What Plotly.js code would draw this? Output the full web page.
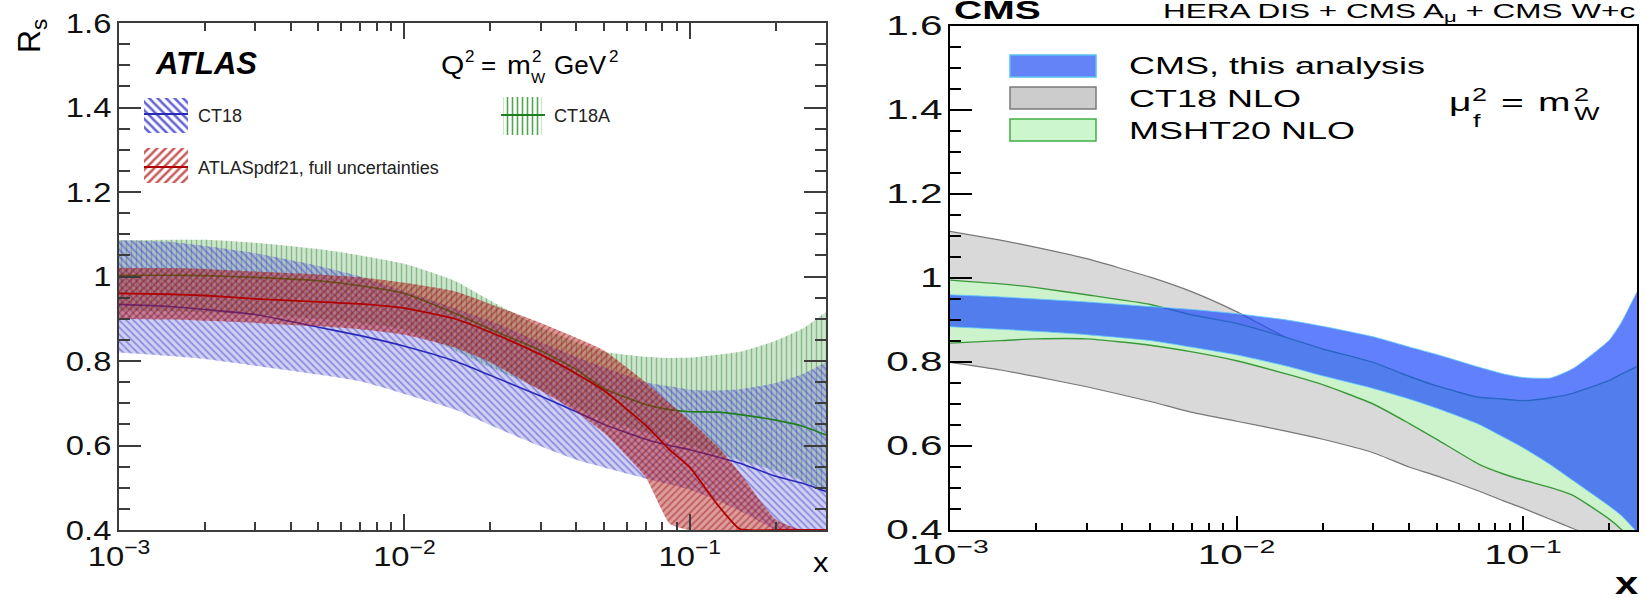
<!DOCTYPE html>
<html><head><meta charset="utf-8">
<script src="https://cdn.plot.ly/plotly-3.0.1.min.js"></script>
<style>html,body{margin:0;padding:0;background:#fff}#chart{width:1646px;height:598px}</style>
</head><body><div id="chart"></div>
<script>
// ---------------- data: left panel (ATLAS), R_s at Q^2 = m_W^2 ----------------
const xLeft      = [0.001,0.0015,0.002,0.003,0.005,0.007,0.01,0.015,0.02,0.03,0.04,0.05,0.07,0.085,0.1,0.125,0.15,0.2,0.25,0.3];
const ct18Up     = [1.086,1.082,1.072,1.055,1.025,1.000,0.965,0.925,0.895,0.845,0.810,0.785,0.750,0.740,0.732,0.730,0.733,0.748,0.770,0.797];
const ct18Mid    = [0.934,0.929,0.922,0.910,0.880,0.860,0.835,0.800,0.766,0.717,0.680,0.650,0.615,0.600,0.590,0.573,0.558,0.527,0.510,0.491];
const ct18Lo     = [0.820,0.812,0.805,0.789,0.768,0.752,0.722,0.685,0.648,0.598,0.566,0.548,0.522,0.508,0.495,0.470,0.445,0.400,0.375,0.355];
const ct18aUp    = [1.086,1.087,1.087,1.080,1.065,1.050,1.030,0.990,0.943,0.880,0.845,0.822,0.810,0.807,0.808,0.815,0.822,0.848,0.878,0.916];
const ct18aMid   = [1.003,1.003,1.002,0.998,0.990,0.978,0.960,0.913,0.875,0.825,0.780,0.735,0.697,0.685,0.680,0.679,0.673,0.660,0.645,0.625];
const ct18aLo    = [0.920,0.918,0.915,0.910,0.900,0.890,0.875,0.825,0.785,0.733,0.690,0.662,0.630,0.615,0.600,0.580,0.565,0.540,0.515,0.487];
const atlasUp    = [1.021,1.020,1.018,1.012,1.005,0.998,0.985,0.965,0.935,0.890,0.855,0.825,0.750,0.700,0.660,0.598,0.535,0.425,0.400,0.400];
const atlasMid   = [0.960,0.958,0.955,0.947,0.940,0.935,0.925,0.900,0.868,0.815,0.770,0.730,0.648,0.590,0.548,0.460,0.402,0.400,0.400,0.400];
const atlasLo    = [0.900,0.898,0.895,0.890,0.882,0.875,0.862,0.832,0.797,0.730,0.680,0.630,0.525,0.415,0.400,0.400,0.400,0.400,0.400,0.400];

// ---------------- data: right panel (CMS), R_s at mu_f^2 = m_W^2 ----------------
const xRight     = [0.001,0.0015,0.002,0.003,0.005,0.007,0.01,0.015,0.02,0.03,0.04,0.05,0.07,0.085,0.1,0.125,0.15,0.2,0.22,0.25];
const cmsUp      = [0.960,0.955,0.950,0.943,0.932,0.925,0.915,0.900,0.885,0.860,0.836,0.818,0.788,0.772,0.763,0.762,0.785,0.852,0.893,0.967];
const cmsLo      = [0.884,0.878,0.873,0.865,0.851,0.835,0.817,0.790,0.767,0.737,0.712,0.690,0.652,0.622,0.596,0.555,0.517,0.457,0.435,0.395];
const ct18nloUp  = [1.111,1.090,1.073,1.046,1.002,0.967,0.920,0.857,0.822,0.782,0.753,0.727,0.676,0.653,0.643,0.637,0.634,0.611,0.589,0.563];
const ct18nloLo  = [0.799,0.781,0.765,0.741,0.706,0.680,0.659,0.635,0.616,0.584,0.550,0.529,0.493,0.470,0.452,0.425,0.403,0.370,0.357,0.340];
const mshtUp     = [0.995,0.986,0.977,0.960,0.937,0.912,0.892,0.858,0.831,0.799,0.766,0.743,0.716,0.712,0.708,0.715,0.726,0.756,0.771,0.789];
const mshtLo     = [0.845,0.851,0.855,0.855,0.840,0.824,0.803,0.771,0.746,0.700,0.654,0.616,0.557,0.534,0.519,0.501,0.482,0.426,0.402,0.360];

// ---------------- ticks ----------------
const xTickVals  = [0.001,0.01,0.1];
const xTickText  = ['10<sup>\u22123</sup>','10<sup>\u22122</sup>','10<sup>\u22121</sup>'];
const xMinorVals = [0.002,0.003,0.004,0.005,0.006,0.007,0.008,0.009,0.02,0.03,0.04,0.05,0.06,0.07,0.08,0.09,0.2,0.3];
const yTickVals  = [0.4,0.6,0.8,1.0,1.2,1.4,1.6];
const yTickText  = ['0.4','0.6','0.8','1','1.2','1.4','1.6'];
const yMinorVals = [0.45,0.5,0.55,0.65,0.7,0.75,0.85,0.9,0.95,1.05,1.1,1.15,1.25,1.3,1.35,1.45,1.5,1.55];

// ---------------- styles ----------------
const W = 1646, H = 598;
const FONT = 'Liberation Sans, Arial, Helvetica, sans-serif';
const S = 1.5;   // horizontal stretch of right-panel lettering
const SL = 1.17; // horizontal stretch of left-panel tick lettering
const SMOOTH = 0.5;

const pBlue  = {shape:'\\', size:5, solidity:0.35, fgcolor:'#3a3ac0', fgopacity:0.45, bgcolor:'rgba(110,110,225,0.32)'};
const pGreen = {shape:'|',  size:5, solidity:0.28, fgcolor:'#2a8a2a', fgopacity:0.45, bgcolor:'rgba(60,150,60,0.26)'};
const pRed   = {shape:'/',  size:5, solidity:0.35, fgcolor:'#8a0000', fgopacity:0.40, bgcolor:'rgba(185,35,35,0.45)'};
const lBlue  = {shape:'\\', size:6, solidity:0.42, fgcolor:'#4a4ad0', fgopacity:0.85, bgcolor:'rgba(255,255,255,0)'};
const lGreen = {shape:'|',  size:5, solidity:0.32, fgcolor:'#2f962f', fgopacity:0.85, bgcolor:'rgba(255,255,255,0)'};
const lRed   = {shape:'/',  size:6, solidity:0.42, fgcolor:'#c04040', fgopacity:0.85, bgcolor:'rgba(255,255,255,0)'};
const cBlueL = '#2a2ab8', cGreenL = '#1f7f1f', cRedL = '#b00000';

const traces = [];
function band(x, up, lo, xa, ya, opt) {
  const edge = opt.edge || {width:0};
  traces.push({type:'scatter', mode:'lines', x:x, y:up, xaxis:xa, yaxis:ya, hoverinfo:'skip',
               line:Object.assign({shape:'spline', smoothing:SMOOTH}, edge)});
  const t = {type:'scatter', mode:'lines', x:x, y:lo, xaxis:xa, yaxis:ya, hoverinfo:'skip', fill:'tonexty',
             line:Object.assign({shape:'spline', smoothing:SMOOTH}, edge)};
  if (opt.pattern) { t.fillcolor = 'rgba(0,0,0,0)'; t.fillpattern = opt.pattern; }
  else t.fillcolor = opt.fill;
  traces.push(t);
}
function curve(x, y, xa, ya, color, width) {
  traces.push({type:'scatter', mode:'lines', x:x, y:y, xaxis:xa, yaxis:ya, hoverinfo:'skip',
               line:{color:color, width:width, shape:'spline', smoothing:SMOOTH}});
}

// left panel
band(xLeft, ct18aUp, ct18aLo, 'x', 'y', {pattern:pGreen});
band(xLeft, ct18Up, ct18Lo, 'x', 'y', {pattern:pBlue});
curve(xLeft, ct18aMid, 'x', 'y', cGreenL, 1.6);
curve(xLeft, ct18Mid, 'x', 'y', cBlueL, 1.6);
band(xLeft, atlasUp, atlasLo, 'x', 'y', {pattern:pRed});
curve(xLeft, atlasMid, 'x', 'y', cRedL, 1.8);

// right panel
band(xRight, ct18nloUp, ct18nloLo, 'x2', 'y2', {fill:'#d9d9d9', edge:{color:'#777777', width:1.2}});
band(xRight, mshtUp, mshtLo, 'x2', 'y2', {fill:'#cdf3cd', edge:{color:'#3a9a3a', width:1.4}});
band(xRight, cmsUp, cmsLo, 'x2', 'y2', {fill:'rgba(35,80,250,0.72)', edge:{color:'rgba(95,200,255,0.9)', width:0.9}});

// ---------------- legend swatches (overlay pixel axes x3/y3) ----------------
const leftLegend = [
  {box:[144,188,98,133],  line:[144,188,114], pattern:lBlue,  color:cBlueL},
  {box:[144,188,148,183], line:[144,188,167], pattern:lRed,   color:cRedL},
  {box:[503,542,97,135],  line:[501,545,115], pattern:lGreen, color:cGreenL}
];
leftLegend.forEach(function(L){
  const b = L.box;
  traces.push({type:'scatter', mode:'lines', xaxis:'x3', yaxis:'y3', hoverinfo:'skip',
    x:[b[0],b[1],b[1],b[0],b[0]], y:[b[2],b[2],b[3],b[3],b[2]], fill:'toself',
    fillcolor:'rgba(0,0,0,0)', fillpattern:L.pattern, line:{width:0}});
  traces.push({type:'scatter', mode:'lines', xaxis:'x3', yaxis:'y3', hoverinfo:'skip',
    x:[L.line[0],L.line[1]], y:[L.line[2],L.line[2]], line:{color:L.color, width:1.8}});
});
const shapes = [
  {type:'rect', xref:'x3', yref:'y3', x0:1010, x1:1096, y0:55,  y1:77,  fillcolor:'#6383f7', line:{color:'#58c0f4', width:1.5}},
  {type:'rect', xref:'x3', yref:'y3', x0:1010, x1:1096, y0:87,  y1:109, fillcolor:'#cccccc', line:{color:'#7a7a7a', width:1.5}},
  {type:'rect', xref:'x3', yref:'y3', x0:1010, x1:1096, y0:119, y1:141, fillcolor:'#ccf7cc', line:{color:'#42ae42', width:1.5}}
];

// ---------------- text ----------------
const annots = [], stretch = [];
function txt(x, y, text, size, o) {
  o = o || {};
  annots.push({xref:'x3', yref:'y3', x:x, y:y, text:text, showarrow:false,
    xanchor:o.xanchor || 'left', yanchor:'middle', align:o.align || 'left', borderpad:0,
    textangle:o.angle || 0,
    font:{family:FONT, size:size, color:o.color || '#000', weight:o.weight || 'normal', style:o.style || 'normal'}});
  stretch.push(o.stretch || 1);
}
// left panel
txt(154, 63, 'ATLAS', 31, {weight:'bold', style:'italic'});
txt(440, 65, 'Q', 26, {stretch:1.15}); txt(464, 56, '2', 17); txt(480, 65, '=', 26);
txt(506, 65, 'm', 26, {stretch:1.1}); txt(531, 56, '2', 17); txt(530, 77, 'W', 15);
txt(553, 65, 'GeV', 26); txt(608, 56, '2', 17);
txt(197, 115.5, 'CT18', 18, {color:'#222'});
txt(197, 167.5, 'ATLASpdf21, full uncertainties', 18, {color:'#222'});
txt(553, 115.5, 'CT18A', 18, {color:'#222'});
txt(31, 36, 'R<sub>s</sub>', 32, {xanchor:'center', align:'center', angle:-90});
txt(812, 563, 'x', 27, {stretch:1.15});
// right panel
txt(953, 10, 'CMS', 26, {weight:'bold', stretch:S});
txt(1162, 12, 'HERA DIS + CMS A<sub>\u03bc</sub> + CMS W+c', 21, {stretch:S});
txt(1128, 65.5, 'CMS, this analysis', 24, {stretch:S});
txt(1128, 98, 'CT18 NLO', 24, {stretch:S});
txt(1128, 130.5, 'MSHT20 NLO', 24, {stretch:S});
txt(1448, 102, '\u03bc', 26, {stretch:S}); txt(1471, 94.5, '2', 18, {stretch:S}); txt(1472, 120.5, 'f', 18, {stretch:S});
txt(1500, 102, '=', 26, {stretch:S});
txt(1537, 102, 'm', 26, {stretch:S}); txt(1573, 94.5, '2', 18, {stretch:S}); txt(1573, 113.5, 'W', 18, {stretch:S});
txt(1614, 583, 'x', 32, {weight:'bold', stretch:1.3});

// ---------------- axes ----------------
function axisBase(col, mirror, fsize) {
  return {showline:true, linecolor:col, linewidth:2, mirror:mirror, ticks:'inside', tickcolor:col, tickwidth:2,
          showgrid:false, zeroline:false, fixedrange:true, tickmode:'array',
          tickfont:{family:FONT, size:fsize, color:'#111'}};
}
const LC = '#3c3c3c';
const layout = {
  width:W, height:H, margin:{l:0, r:0, t:0, b:0}, showlegend:false,
  paper_bgcolor:'#fff', plot_bgcolor:'rgba(0,0,0,0)',
  xaxis: Object.assign(axisBase(LC, 'allticks', 28), {type:'log', domain:[119/W, 826/W], range:[-3, Math.log10(0.3)], anchor:'y',
          tickvals:xTickVals, ticktext:xTickText, ticklen:16,
          minor:{tickmode:'array', tickvals:xMinorVals, ticks:'inside', ticklen:8, tickwidth:2, tickcolor:LC}}),
  yaxis: Object.assign(axisBase(LC, 'allticks', 28), {domain:[1-530/H, 1-23/H], range:[0.4, 1.6], anchor:'x',
          tickvals:yTickVals, ticktext:yTickText, ticklen:22,
          minor:{tickmode:'array', tickvals:yMinorVals, ticks:'inside', ticklen:11, tickwidth:2, tickcolor:LC}}),
  xaxis2: Object.assign(axisBase('#000', true, 27), {type:'log', domain:[950/W, 1637/W], range:[-3, Math.log10(0.25)], anchor:'y2',
          tickvals:xTickVals, ticktext:xTickText, ticklen:14,
          minor:{tickmode:'array', tickvals:xMinorVals, ticks:'inside', ticklen:7, tickwidth:2, tickcolor:'#000'}}),
  yaxis2: Object.assign(axisBase('#000', true, 27), {domain:[1-530/H, 1-26/H], range:[0.4, 1.6], anchor:'x2',
          tickvals:yTickVals, ticktext:yTickText, ticklen:22,
          minor:{tickmode:'array', tickvals:yMinorVals, ticks:'inside', ticklen:11, tickwidth:2, tickcolor:'#000'}}),
  xaxis3: {domain:[0,1], range:[0,W], visible:false, anchor:'y3', fixedrange:true},
  yaxis3: {domain:[0,1], range:[H,0], visible:false, anchor:'x3', fixedrange:true},
  shapes: shapes,
  annotations: annots
};

function widen(el, f) {
  const w = el.getComputedTextLength();
  if (w > 0) { el.setAttribute('textLength', (w*f).toFixed(2)); el.setAttribute('lengthAdjust', 'spacingAndGlyphs'); }
}
Plotly.newPlot('chart', traces, layout, {staticPlot:true, displayModeBar:false}).then(function(gd){
  gd.querySelectorAll('.x2tick text, .y2tick text').forEach(function(el){ widen(el, S); });
  gd.querySelectorAll('.xtick text, .ytick text').forEach(function(el){ widen(el, SL); });
  gd.querySelectorAll('g.annotation').forEach(function(g){
    const i = +g.getAttribute('data-index');
    const f = stretch[i];
    if (f && f !== 1) { const t = g.querySelector('text.annotation-text'); if (t) widen(t, f); }
  });
});
</script></body></html>
